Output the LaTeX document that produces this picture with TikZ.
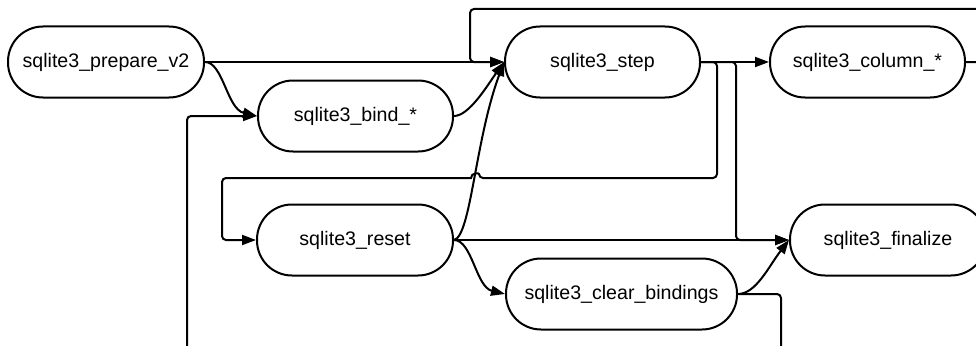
\documentclass[tikz,border=0pt]{standalone}
\usepackage{fontspec}
\setmainfont{Liberation Sans}
\usetikzlibrary{arrows.meta}
\begin{document}
\begin{tikzpicture}[x=1pt,y=-1pt,
  state/.style={draw=black, line width=2pt, fill=white, rectangle,
    rounded corners=35pt, minimum height=71pt, inner sep=0pt,
    font=\fontsize{19.6}{23}\selectfont},
  conn/.style={line width=2pt, -{Triangle[length=14pt,width=10pt]}},
  route/.style={conn, rounded corners=4pt},
]
\clip (0,0) rectangle (976,345);
\fill[white] (0,0) rectangle (976,345);

% statement life-cycle states
\node[state, minimum width=196pt] (prep)   at (106,62)   {sqlite3\_prepare\_v2};
\node[state, minimum width=195pt] (step)   at (602.5,62) {sqlite3\_step};
\node[state, minimum width=195pt] (column) at (867.5,62) {sqlite3\_column\_*};
\node[state, minimum width=195pt] (bind)   at (355.5,116) {sqlite3\_bind\_*};
\node[state, minimum width=196pt] (reset)  at (355,240)  {sqlite3\_reset};
\node[state, minimum width=231pt] (clear)  at (621.5,294) {sqlite3\_clear\_bindings};
\node[state, minimum width=196pt] (final)  at (888,240)  {sqlite3\_finalize};

% direct transitions
\draw[conn] (prep.east) -- (step.west);
\draw[conn] (prep.east) .. controls +(18,0) and +(-30,-7) .. (bind.west);
\draw[conn] (bind.east) .. controls +(15,0) and +(-17,24) .. (step.west);
\draw[conn] (reset.east) .. controls +(17,-4) and +(-29,78) .. (step.west);
\draw[conn] (step.east) -- (column.west);
\draw[conn] (reset.east) -- (final.west);
\draw[conn] (reset.east) .. controls +(18,0) and +(-29,-7) .. (clear.west);
\draw[conn] (clear.east) .. controls +(18,0) and +(-20,26) .. (final.west);

% routed transitions
\draw[route] (step.east) -| (717,178) -- (479,178) [sharp corners]
  .. controls (479,172.7) and (471,172.7) .. (471,178)
  [rounded corners=4pt] -- (222,178) |- (reset.west);
\draw[route] (step.east) -| (736,240) -- (final.west);
\draw[route] (column.east) -| (985,9) -| (470,62) -- (step.west);
\draw[route] (clear.east) -| (781,352) -| (187,116) -- (bind.west);
\end{tikzpicture}
\end{document}
